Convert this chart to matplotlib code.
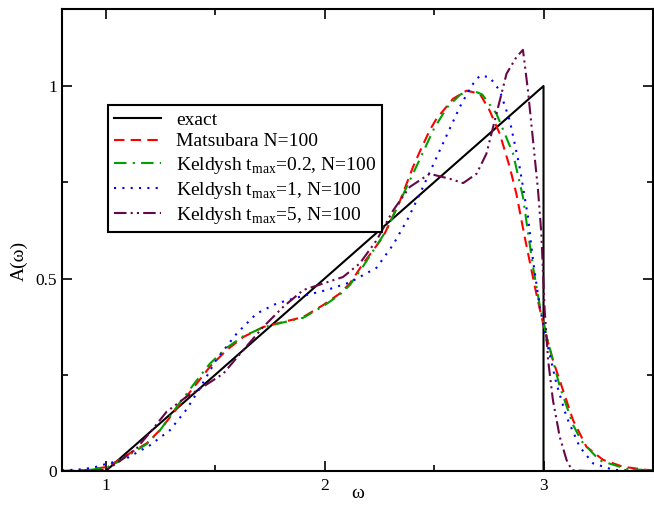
import matplotlib.pyplot as plt
import numpy as np

plt.rcParams['font.family'] = ['Liberation Serif', 'DejaVu Serif']
plt.rcParams['mathtext.fontset'] = 'custom'
plt.rcParams['mathtext.rm'] = 'Liberation Serif'

# exact spectral function (triangle)
w_exact = [0.8, 1.0, 3.0, 3.0, 3.5]
a_exact = [0.0, 0.0, 1.0, 0.0, 0.0]

w_mats = [0.8, 0.9, 1.0, 1.05, 1.11, 1.187, 1.247, 1.331, 1.415, 1.476, 1.552, 1.628,
          1.719, 1.81, 1.902, 1.993, 2.069, 2.115, 2.176, 2.267, 2.343, 2.404, 2.435,
          2.48, 2.511, 2.587, 2.648, 2.709, 2.754, 2.80, 2.846, 2.876, 2.914, 2.967,
          3.005, 3.043, 3.089, 3.135, 3.196, 3.272, 3.363, 3.47, 3.5]
a_mats = [0.0, 0.002, 0.01, 0.025, 0.046, 0.072, 0.106, 0.167, 0.227, 0.271, 0.314, 0.348,
          0.374, 0.387, 0.40, 0.431, 0.461, 0.487, 0.539, 0.608, 0.70, 0.79, 0.83,
          0.885, 0.915, 0.967, 0.988, 0.98, 0.936, 0.876, 0.789, 0.72, 0.608, 0.461,
          0.366, 0.288, 0.21, 0.132, 0.063, 0.029, 0.011, 0.003, 0.002]

w_k02 = [0.8, 0.9, 1.0, 1.05, 1.11, 1.187, 1.247, 1.331, 1.415, 1.476, 1.552, 1.628,
         1.719, 1.81, 1.902, 1.993, 2.069, 2.115, 2.176, 2.282, 2.36, 2.435, 2.50,
         2.56, 2.62, 2.671, 2.72, 2.785, 2.861, 2.906, 2.929, 2.955, 2.983, 3.021,
         3.074, 3.135, 3.173, 3.257, 3.378, 3.5]
a_k02 = [0.0, 0.001, 0.008, 0.022, 0.043, 0.07, 0.105, 0.172, 0.235, 0.279, 0.32, 0.35,
         0.373, 0.386, 0.398, 0.428, 0.458, 0.483, 0.532, 0.625, 0.72, 0.81, 0.89,
         0.945, 0.978, 0.99, 0.978, 0.928, 0.824, 0.712, 0.62, 0.52, 0.43, 0.335,
         0.22, 0.12, 0.078, 0.027, 0.006, 0.001]

w_k1 = [0.8, 0.85, 0.9, 0.95, 1.0, 1.05, 1.095, 1.202, 1.293, 1.369, 1.43, 1.506, 1.598,
        1.689, 1.78, 1.902, 2.009, 2.115, 2.237, 2.313, 2.38, 2.435, 2.526, 2.617,
        2.67, 2.709, 2.754, 2.80, 2.846, 2.891, 2.929, 2.952, 2.983, 3.021, 3.059,
        3.105, 3.165, 3.226, 3.32, 3.5]
a_k1 = [0.002, 0.003, 0.005, 0.01, 0.018, 0.025, 0.033, 0.067, 0.106, 0.16, 0.215, 0.29,
        0.357, 0.409, 0.435, 0.455, 0.47, 0.49, 0.528, 0.588, 0.655, 0.72, 0.833, 0.945,
        1.0, 1.027, 1.023, 0.988, 0.91, 0.789, 0.66, 0.547, 0.426, 0.32, 0.227,
        0.141, 0.063, 0.02, 0.003, 0.0]

w_k5 = [0.8, 0.9, 1.0, 1.05, 1.141, 1.202, 1.278, 1.369, 1.445, 1.537, 1.628, 1.719,
        1.81, 1.902, 1.993, 2.084, 2.16, 2.237, 2.313, 2.389, 2.48, 2.572, 2.633,
        2.694, 2.739, 2.785, 2.831, 2.876, 2.906, 2.929, 2.952, 2.975, 2.99, 3.005,
        3.021, 3.043, 3.074, 3.105, 3.13, 3.2, 3.5]
a_k5 = [0.0, 0.0, 0.003, 0.02, 0.059, 0.10, 0.154, 0.193, 0.219, 0.253, 0.314, 0.374,
        0.426, 0.47, 0.487, 0.504, 0.539, 0.599, 0.677, 0.738, 0.772, 0.759, 0.748,
        0.772, 0.824, 0.928, 1.032, 1.075, 1.094, 0.988, 0.859, 0.729, 0.617, 0.42,
        0.288, 0.184, 0.089, 0.029, 0.002, 0.0, 0.0]

x_ticks = [1, 2, 3]
y_ticks = [0, 0.5, 1]
y_ticklabels = ['0', '0.5', '1']

fig = plt.figure(figsize=(6.54, 5.08), dpi=100)
ax = fig.add_axes([0.0948, 0.0728, 0.9036, 0.9094])

ax.plot(w_exact, a_exact, color='black', lw=1.5, label='exact')
ax.plot(w_mats, a_mats, color='#ff0000', lw=1.5, ls=(0, (5, 3)), label='Matsubara N=100')
ax.plot(w_k02, a_k02, color='#00a000', lw=1.5, ls=(0, (6, 3, 1, 3)),
        label=r'Keldysh t$_{\rm max}$=0.2, N=100')
ax.plot(w_k1, a_k1, color='#0000ff', lw=1.5, ls=(0, (1, 3)),
        label=r'Keldysh t$_{\rm max}$=1, N=100')
ax.plot(w_k5, a_k5, color='#670748', lw=1.5, ls=(0, (6, 2, 1, 2, 1, 2)),
        label=r'Keldysh t$_{\rm max}$=5, N=100')

ax.set_xlim(0.8, 3.5)
ax.set_ylim(0, 1.2)
ax.set_xticks(x_ticks)
ax.set_xticklabels([str(t) for t in x_ticks])
ax.set_yticks(y_ticks)
ax.set_yticklabels(y_ticklabels)
ax.set_xticks([1.5, 2.5], minor=True)
ax.set_yticks([0.25, 0.75], minor=True)
ax.tick_params(which='both', direction='in', top=True, right=True, labelsize=12.5, width=1.2)
ax.tick_params(axis='x', pad=5)
ax.tick_params(which='major', length=7)
ax.tick_params(which='minor', length=4)
for s in ax.spines.values():
    s.set_linewidth(1.5)

ax.set_xlabel('ω', fontsize=14)
ax.set_ylabel('A(ω)', fontsize=14)
ax.xaxis.set_label_coords(0.5, -0.048)
ax.xaxis.label.set_va('center')
ax.yaxis.set_label_coords(-0.072, 0.455)
ax.yaxis.label.set_va('center')

leg = ax.legend(loc='upper left', bbox_to_anchor=(0.078, 0.792), borderaxespad=0,
                fontsize=14, frameon=True, fancybox=False, framealpha=1,
                edgecolor='black', handlelength=2.4, labelspacing=0.22,
                borderpad=0.3, handletextpad=0.8)
leg.get_frame().set_linewidth(1.5)

plt.savefig('out.png', dpi=100)
